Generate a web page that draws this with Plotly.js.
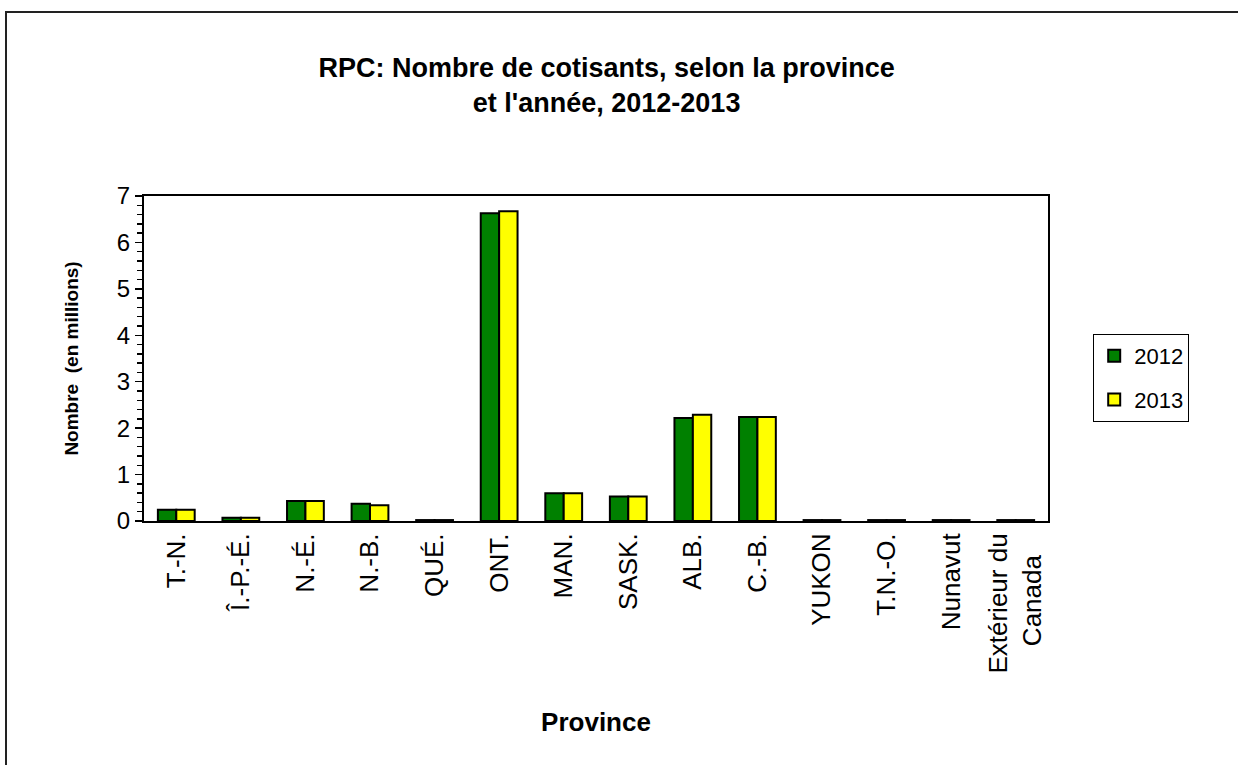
<!DOCTYPE html>
<html><head><meta charset="utf-8">
<script src="https://cdn.plot.ly/plotly-3.0.1.min.js"></script>
<style>
html,body{margin:0;padding:0;background:#fff;}
#frame{position:absolute;left:5px;top:11px;width:1300px;height:800px;border:2px solid #222;box-sizing:border-box;}
#chart{position:absolute;left:0;top:0;width:1238px;height:765px;}
</style></head>
<body>
<div id="frame"></div>
<div id="chart"></div>
<script>
const provinces = ["T.-N.","Î.-P.-É.","N.-É.","N.-B.","QUÉ.","ONT.","MAN.","SASK.","ALB.","C.-B.","YUKON","T.N.-O.","Nunavut","Extérieur du<br>Canada\u00a0\u00a0\u00a0"];
const values2012 = [0.24,0.07,0.43,0.37,0.02,6.63,0.60,0.53,2.22,2.24,0.02,0.02,0.02,0.02];
const values2013 = [0.24,0.07,0.43,0.34,0.02,6.67,0.60,0.53,2.29,2.24,0.02,0.02,0.02,0.02];
const seriesNames = ["2012","2013"];

const font = "Arial, 'Liberation Sans', sans-serif";
const traces = [
  {type:'bar', name:seriesNames[0], legendgroup:'a', x:provinces, y:values2012, marker:{color:'#008000', line:{color:'#000', width:2}}},
  {type:'bar', name:seriesNames[1], legendgroup:'b', x:provinces, y:values2013, marker:{color:'#ffff00', line:{color:'#000', width:2}}}
];
const layout = {
  width:1238, height:765,
  paper_bgcolor:'rgba(0,0,0,0)', plot_bgcolor:'#fff',
  margin:{l:144, r:190, t:196, b:244},
  font:{family:font, color:'#000'},
  barmode:'group', bargap:0.43, bargroupgap:0,
  title:{text:"<b>RPC: Nombre de cotisants, selon la province<br>et l'année, 2012-2013</b>", font:{size:27, family:font, color:'#000'}, x:0.49, xanchor:'center', y:0.9, yanchor:'top'},
  xaxis:{type:'category', tickangle:-90, tickfont:{size:26, family:font}, showline:true, linecolor:'#000', linewidth:2, mirror:true, ticks:'', showgrid:false,
    title:{text:'<b>Province</b>', font:{size:26, family:font}, standoff:40}},
  yaxis:{range:[0,7], dtick:1, tickfont:{size:24, family:font}, showline:true, linecolor:'#000', linewidth:2, mirror:true, ticks:'outside', ticklen:7, tickwidth:1.5, tickcolor:'#000', showgrid:false, zeroline:false,
    minor:{dtick:0.2, ticks:'outside', ticklen:5, tickwidth:1.5, tickcolor:'#000', showgrid:false},
    title:{text:'<b>Nombre  (en millions)</b>', font:{size:19, family:font}, standoff:33}},
  legend:{x:1.05, xanchor:'left', y:0.44, yanchor:'middle', bordercolor:'#000', borderwidth:1, font:{size:22, family:font}, itemwidth:30, tracegroupgap:12, traceorder:'grouped', bgcolor:'#fff'},
  showlegend:true
};
Plotly.newPlot('chart', traces, layout, {displayModeBar:false, staticPlot:true});
</script>
</body></html>
